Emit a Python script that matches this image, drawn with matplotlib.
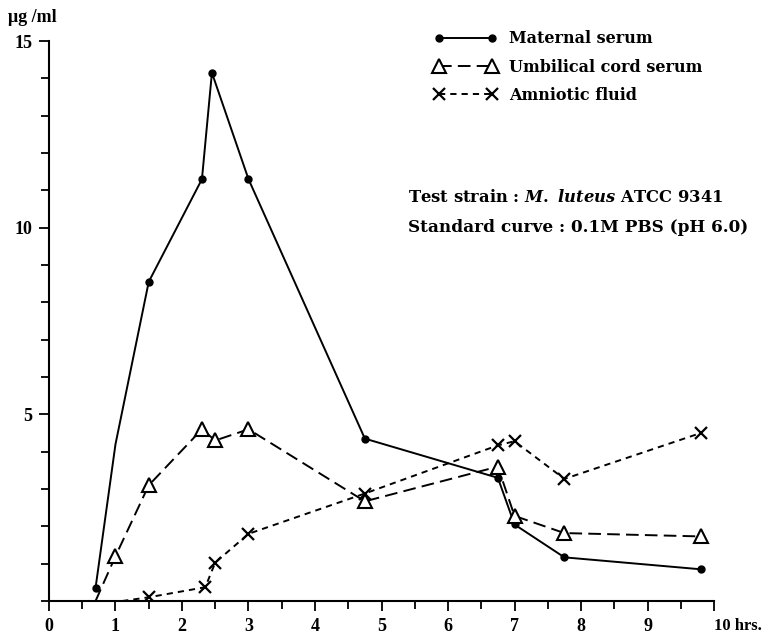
import numpy as np
import matplotlib
matplotlib.use('Agg')
import matplotlib.pyplot as plt
from matplotlib.ticker import MultipleLocator

plt.rcParams['font.family'] = ['Liberation Serif', 'DejaVu Serif']
plt.rcParams['font.weight'] = 'bold'
plt.rcParams['mathtext.fontset'] = 'custom'
plt.rcParams['mathtext.it'] = 'DejaVu Serif:italic:bold'
plt.rcParams['mathtext.rm'] = 'DejaVu Serif:bold'

# data (hours, ug/ml)
maternal_t = [0.7, 1.0, 1.5, 2.3, 2.45, 3.0, 4.75, 6.75, 7.0, 7.75, 9.8]
maternal_c = [0.35, 4.2, 8.55, 11.3, 14.15, 11.3, 4.35, 3.3, 2.05, 1.17, 0.85]

cord_t = [0.7, 1.0, 1.5, 2.3, 2.5, 3.0, 4.75, 6.75, 7.0, 7.75, 9.8]
cord_c = [0.0, 1.2, 3.1, 4.6, 4.3, 4.6, 2.67, 3.6, 2.28, 1.82, 1.73]

amnio_t = [1.1, 1.5, 2.35, 2.5, 3.0, 4.75, 6.75, 7.0, 7.75, 9.8]
amnio_c = [0.0, 0.1, 0.37, 1.03, 1.8, 2.88, 4.17, 4.28, 3.27, 4.5]

xticks = list(range(0, 11))
xlabels = [str(i) for i in range(0, 10)] + ['10 hrs.']
yticks = [5, 10, 15]

fig = plt.figure(figsize=(7.63, 6.36), dpi=100)
ax = fig.add_axes([0.0642, 0.055, 0.8716, 0.8805])

lw = 1.4
ax.plot(maternal_t, maternal_c, color='black', lw=lw, marker='o', ms=5,
        markevery=[0, 2, 3, 4, 5, 6, 7, 8, 9, 10], label='Maternal serum')
ax.plot(cord_t, cord_c, color='black', lw=lw, dashes=(6.5, 3.2), marker='^',
        ms=10, mfc='white', mec='black', mew=1.5, markevery=list(range(1, 11)),
        label='Umbilical cord serum')
ax.plot(amnio_t, amnio_c, color='black', lw=lw, dashes=(3.2, 2.6), marker='x',
        ms=9, mew=1.6, markevery=list(range(1, 10)), label='Amniotic fluid')

ax.set_xlim(0, 10)
ax.set_ylim(0, 15)
ax.spines['top'].set_visible(False)
ax.spines['right'].set_visible(False)
ax.spines['left'].set_linewidth(1.5)
ax.spines['bottom'].set_linewidth(1.5)

ax.set_xticks(xticks)
ax.set_xticklabels(xlabels)
ax.xaxis.set_minor_locator(MultipleLocator(0.5))
ax.set_yticks(yticks)
ax.yaxis.set_minor_locator(MultipleLocator(1))
ax.tick_params(which='both', direction='out', width=1.3, labelsize=13)
ax.tick_params(which='major', length=7, pad=5)
ax.tick_params(which='minor', length=6)
lab10 = ax.get_xticklabels()[-1]
lab10.set_ha('left')
lab10.set_x(9.88)
lab10.set_fontsize(12)

fig.text(0.011, 1 - 17 / 636, 'μg /ml', fontsize=13, va='center')

leg = ax.legend(loc='upper left', bbox_to_anchor=(420 / 763, 1 - 16 / 636),
                bbox_transform=fig.transFigure, frameon=False, numpoints=2,
                handlelength=3.9, labelspacing=0.7, handletextpad=0.8,
                prop={'family': 'DejaVu Serif', 'weight': 'bold', 'size': 11.5})

ax.text(408 / 763, 1 - 198 / 636,
        r'Test strain : $M.\ luteus$ ATCC 9341',
        transform=fig.transFigure, fontsize=11.8, va='center',
        family='DejaVu Serif')
ax.text(408 / 763, 1 - 228 / 636,
        'Standard curve : 0.1M PBS (pH 6.0)',
        transform=fig.transFigure, fontsize=12.2, va='center',
        family='DejaVu Serif')

fig.savefig('out.png', dpi=100)
